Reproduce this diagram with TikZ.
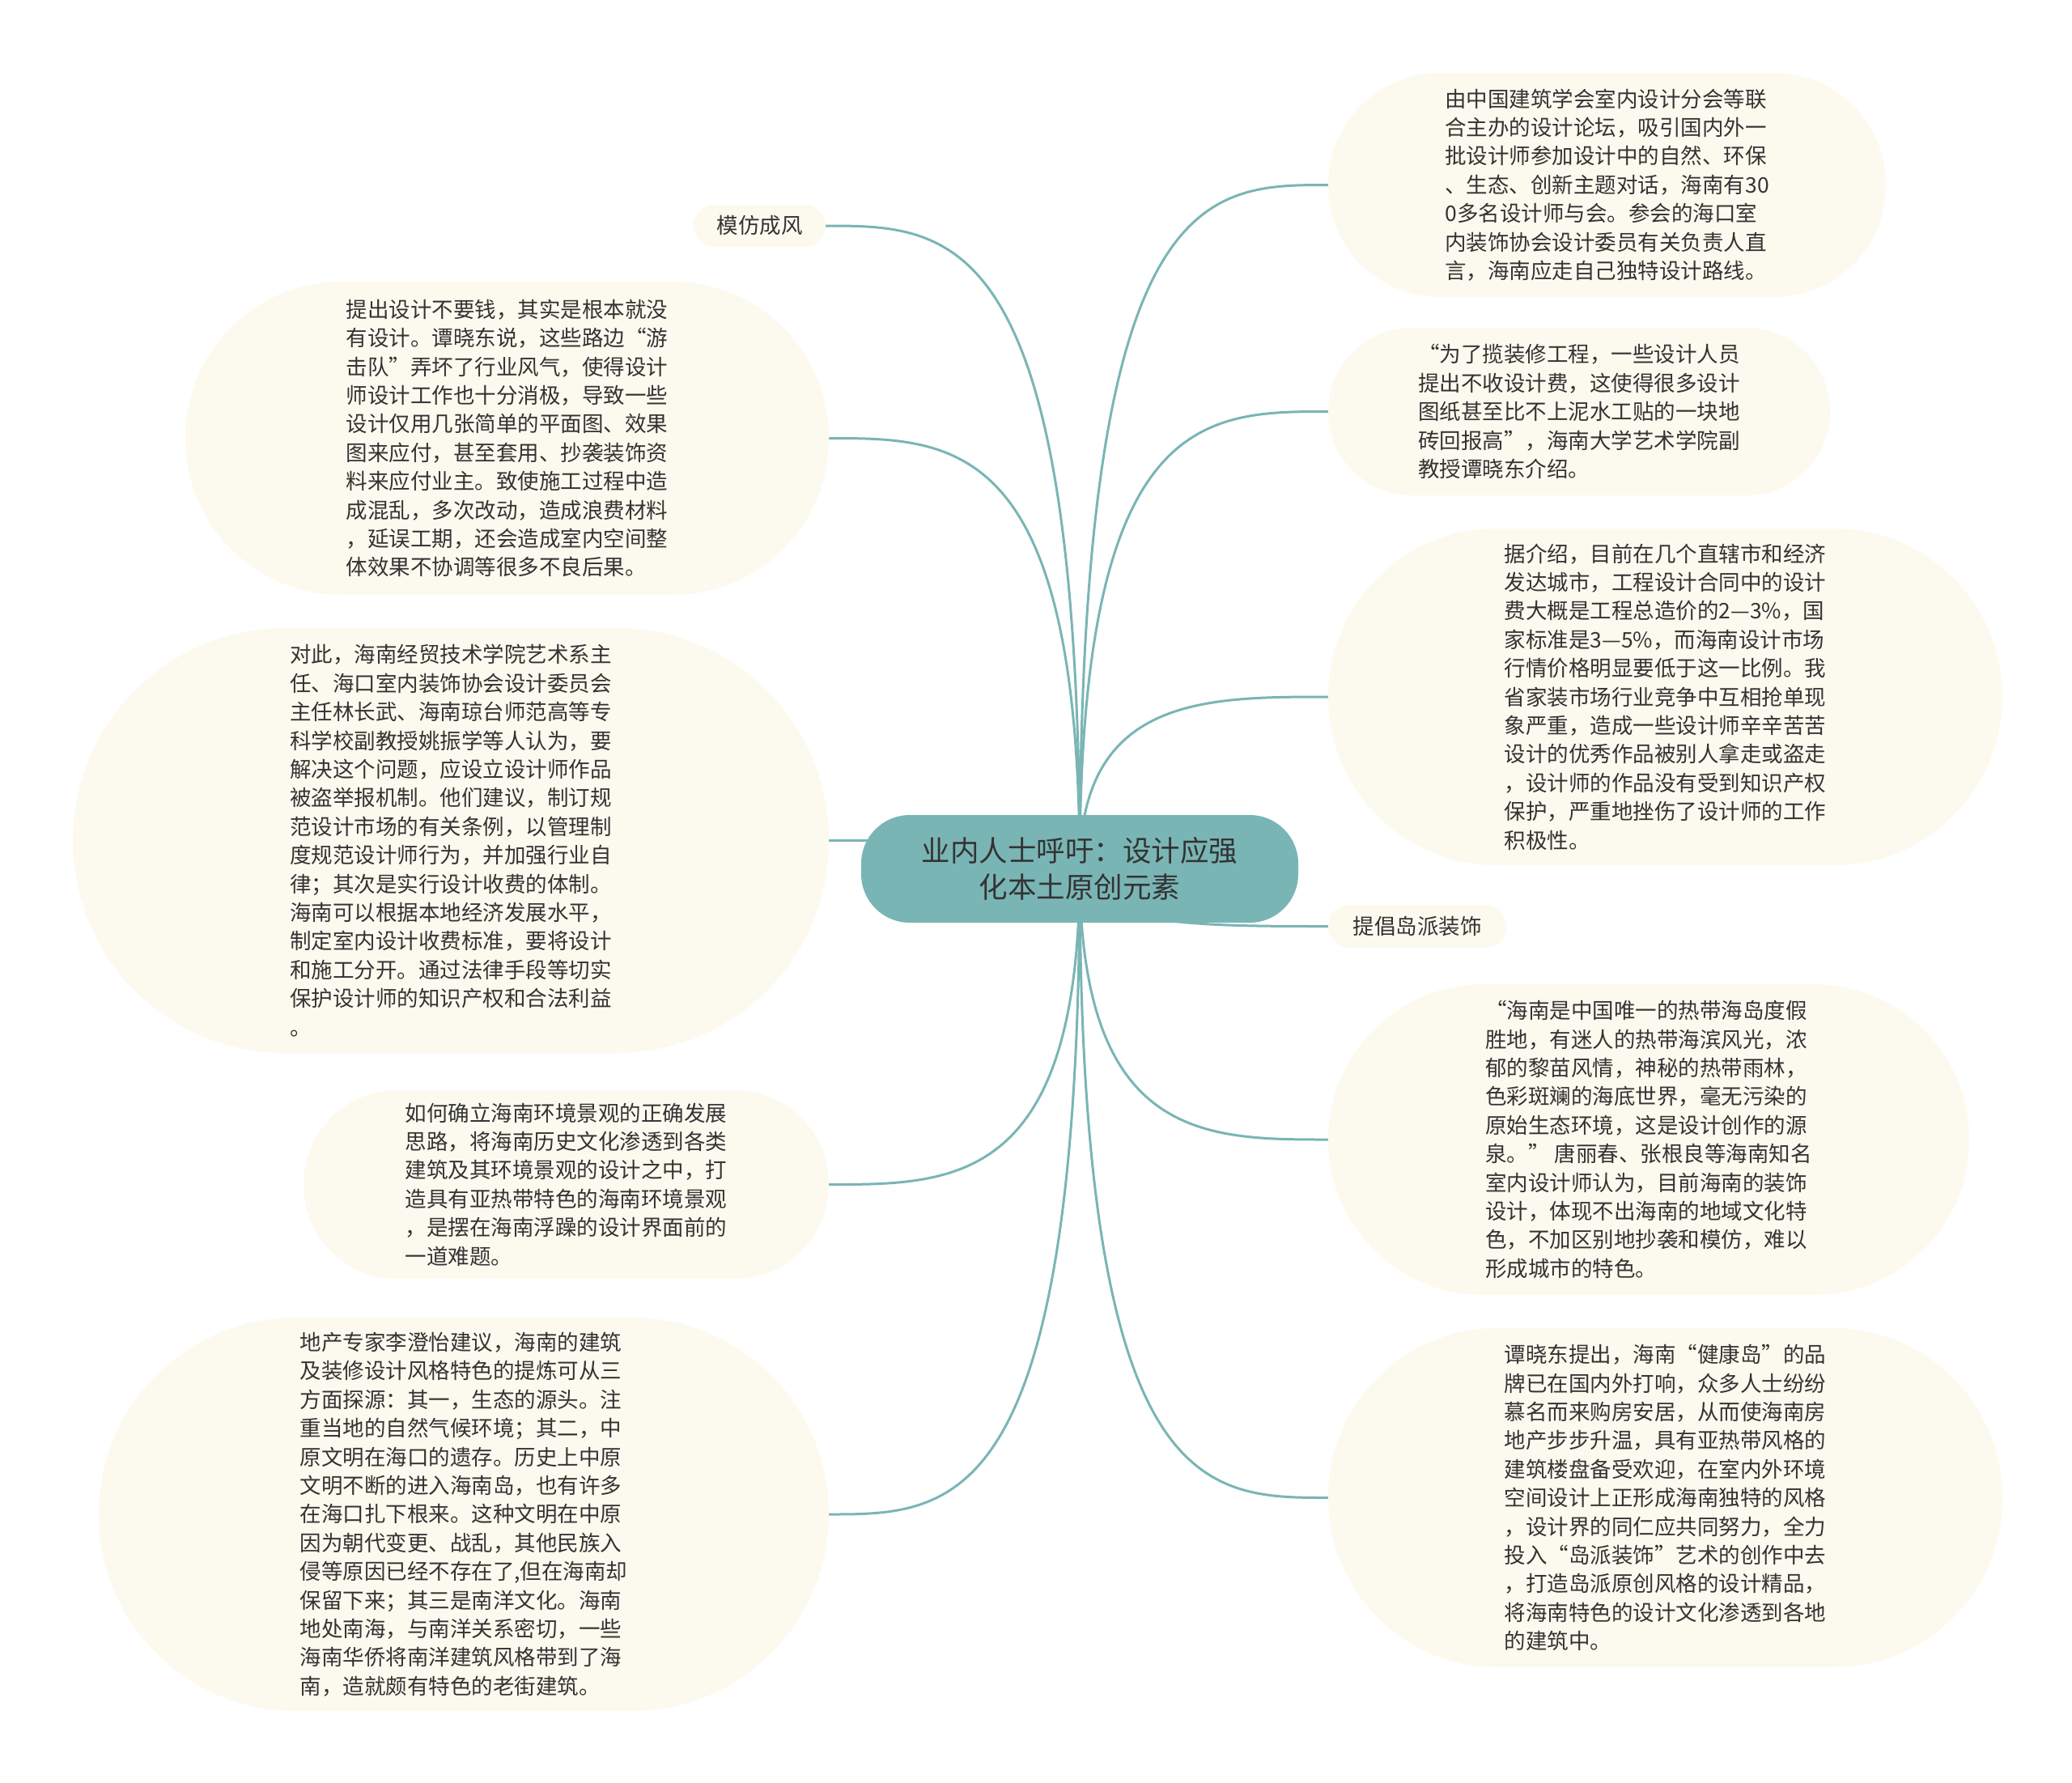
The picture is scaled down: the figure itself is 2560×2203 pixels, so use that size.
\documentclass[tikz,border=0pt]{standalone}
\usepackage{fontspec}
\newfontfamily\cjk{Noto Sans CJK SC}
\usetikzlibrary{calc,backgrounds}
\definecolor{teal1}{HTML}{7AB5B5}
\definecolor{cream}{HTML}{FCFAEE}
\definecolor{txt}{HTML}{333333}
\tikzset{
  blob/.style n args={3}{draw=none, fill=cream, rounded corners=#3pt,
    minimum width=#1pt, minimum height=#2pt, inner sep=0pt, align=left,
    font=\cjk\fontsize{26.5}{35.4}\selectfont, text=txt},
  conn/.style={draw=teal1, line width=3pt},
}
\newcommand{\curveto}[2]{%
  \draw[conn] (#1.center) .. controls (#1.center |- #2) and ($(#1.center |- #2)!0.5!(#2)$) .. (#2);}
\begin{document}
\begin{tikzpicture}[x=1pt,y=-1pt]
\useasboundingbox (0,0) rectangle (2560,2203);

\node[fill=teal1, rounded corners=60pt, minimum width=540pt, minimum height=133pt,
  inner sep=0pt, align=center, font=\cjk\fontsize{35.5}{45.7}\selectfont, text=txt]
  (c) at (1334,1073.5) {业内人士呼吁：设计应强\\化本土原创元素};

\node[blob={163}{52}{26}, align=center] (n1) at (938.5,279) {模仿成风};

\node[blob={795}{387}{193}] (l1) at (626.5,541.5) {提出设计不要钱，其实是根本就没\\有设计。谭晓东说，这些路边“游\\击队”弄坏了行业风气，使得设计\\师设计工作也十分消极，导致一些\\设计仅用几张简单的平面图、效果\\图来应付，甚至套用、抄袭装饰资\\料来应付业主。致使施工过程中造\\成混乱，多次改动，造成浪费材料\\，延误工期，还会造成室内空间整\\体效果不协调等很多不良后果。};

\node[blob={934}{525}{262}] (l2) at (557,1038.5) {对此，海南经贸技术学院艺术系主\\任、海口室内装饰协会设计委员会\\主任林长武、海南琼台师范高等专\\科学校副教授姚振学等人认为，要\\解决这个问题，应设立设计师作品\\被盗举报机制。他们建议，制订规\\范设计市场的有关条例，以管理制\\度规范设计师行为，并加强行业自\\律；其次是实行设计收费的体制。\\海南可以根据本地经济发展水平，\\制定室内设计收费标准，要将设计\\和施工分开。通过法律手段等切实\\保护设计师的知识产权和合法利益\\。};

\node[blob={649}{233}{116}] (l3) at (699.5,1463.5) {如何确立海南环境景观的正确发展\\思路，将海南历史文化渗透到各类\\建筑及其环境景观的设计之中，打\\造具有亚热带特色的海南环境景观\\，是摆在海南浮躁的设计界面前的\\一道难题。};

\node[blob={902}{486}{243}] (l4) at (573,1871) {地产专家李澄怡建议，海南的建筑\\及装修设计风格特色的提炼可从三\\方面探源：其一，生态的源头。注\\重当地的自然气候环境；其二，中\\原文明在海口的遗存。历史上中原\\文明不断的进入海南岛，也有许多\\在海口扎下根来。这种文明在中原\\因为朝代变更、战乱，其他民族入\\侵等原因已经不存在了,但在海南却\\保留下来；其三是南洋文化。海南\\地处南海，与南洋关系密切，一些\\海南华侨将南洋建筑风格带到了海\\南，造就颇有特色的老街建筑。};

\node[blob={689}{277}{138}] (r1) at (1985.5,228.5) {由中国建筑学会室内设计分会等联\\合主办的设计论坛，吸引国内外一\\批设计师参加设计中的自然、环保\\、生态、创新主题对话，海南有30\\0多名设计师与会。参会的海口室\\内装饰协会设计委员有关负责人直\\言，海南应走自己独特设计路线。};

\node[blob={620}{207}{103}] (r2) at (1951,508.5) {“为了揽装修工程，一些设计人员\\提出不收设计费，这使得很多设计\\图纸甚至比不上泥水工贴的一块地\\砖回报高”，海南大学艺术学院副\\教授谭晓东介绍。};

\node[blob={833}{416}{208}] (r3) at (2057.5,861) {据介绍，目前在几个直辖市和经济\\发达城市，工程设计合同中的设计\\费大概是工程总造价的2—3\%，国\\家标准是3—5\%，而海南设计市场\\行情价格明显要低于这一比例。我\\省家装市场行业竞争中互相抢单现\\象严重，造成一些设计师辛辛苦苦\\设计的优秀作品被别人拿走或盗走\\，设计师的作品没有受到知识产权\\保护，严重地挫伤了设计师的工作\\积极性。};

\node[blob={220}{53}{26}, align=center] (n2) at (1751,1144.5) {提倡岛派装饰};

\node[blob={792}{384}{192}] (r4) at (2037,1408) {“海南是中国唯一的热带海岛度假\\胜地，有迷人的热带海滨风光，浓\\郁的黎苗风情，神秘的热带雨林，\\色彩斑斓的海底世界，毫无污染的\\原始生态环境，这是设计创作的源\\泉。” 唐丽春、张根良等海南知名\\室内设计师认为，目前海南的装饰\\设计，体现不出海南的地域文化特\\色，不加区别地抄袭和模仿，难以\\形成城市的特色。};

\node[blob={833}{419}{209}] (r5) at (2057.5,1850.5) {谭晓东提出，海南“健康岛”的品\\牌已在国内外打响，众多人士纷纷\\慕名而来购房安居，从而使海南房\\地产步步升温，具有亚热带风格的\\建筑楼盘备受欢迎，在室内外环境\\空间设计上正形成海南独特的风格\\，设计界的同仁应共同努力，全力\\投入“岛派装饰”艺术的创作中去\\，打造岛派原创风格的设计精品，\\将海南特色的设计文化渗透到各地\\的建筑中。};

\begin{pgfonlayer}{background}
  \fill[white] (0,0) rectangle (2560,2203);
  \curveto{c}{n1.east}
  \curveto{c}{l1.east}
  \curveto{c}{l2.east}
  \curveto{c}{l3.east}
  \curveto{c}{l4.east}
  \curveto{c}{r1.west}
  \curveto{c}{r2.west}
  \curveto{c}{r3.west}
  \curveto{c}{n2.west}
  \curveto{c}{r4.west}
  \curveto{c}{r5.west}
\end{pgfonlayer}
\end{tikzpicture}
\end{document}
